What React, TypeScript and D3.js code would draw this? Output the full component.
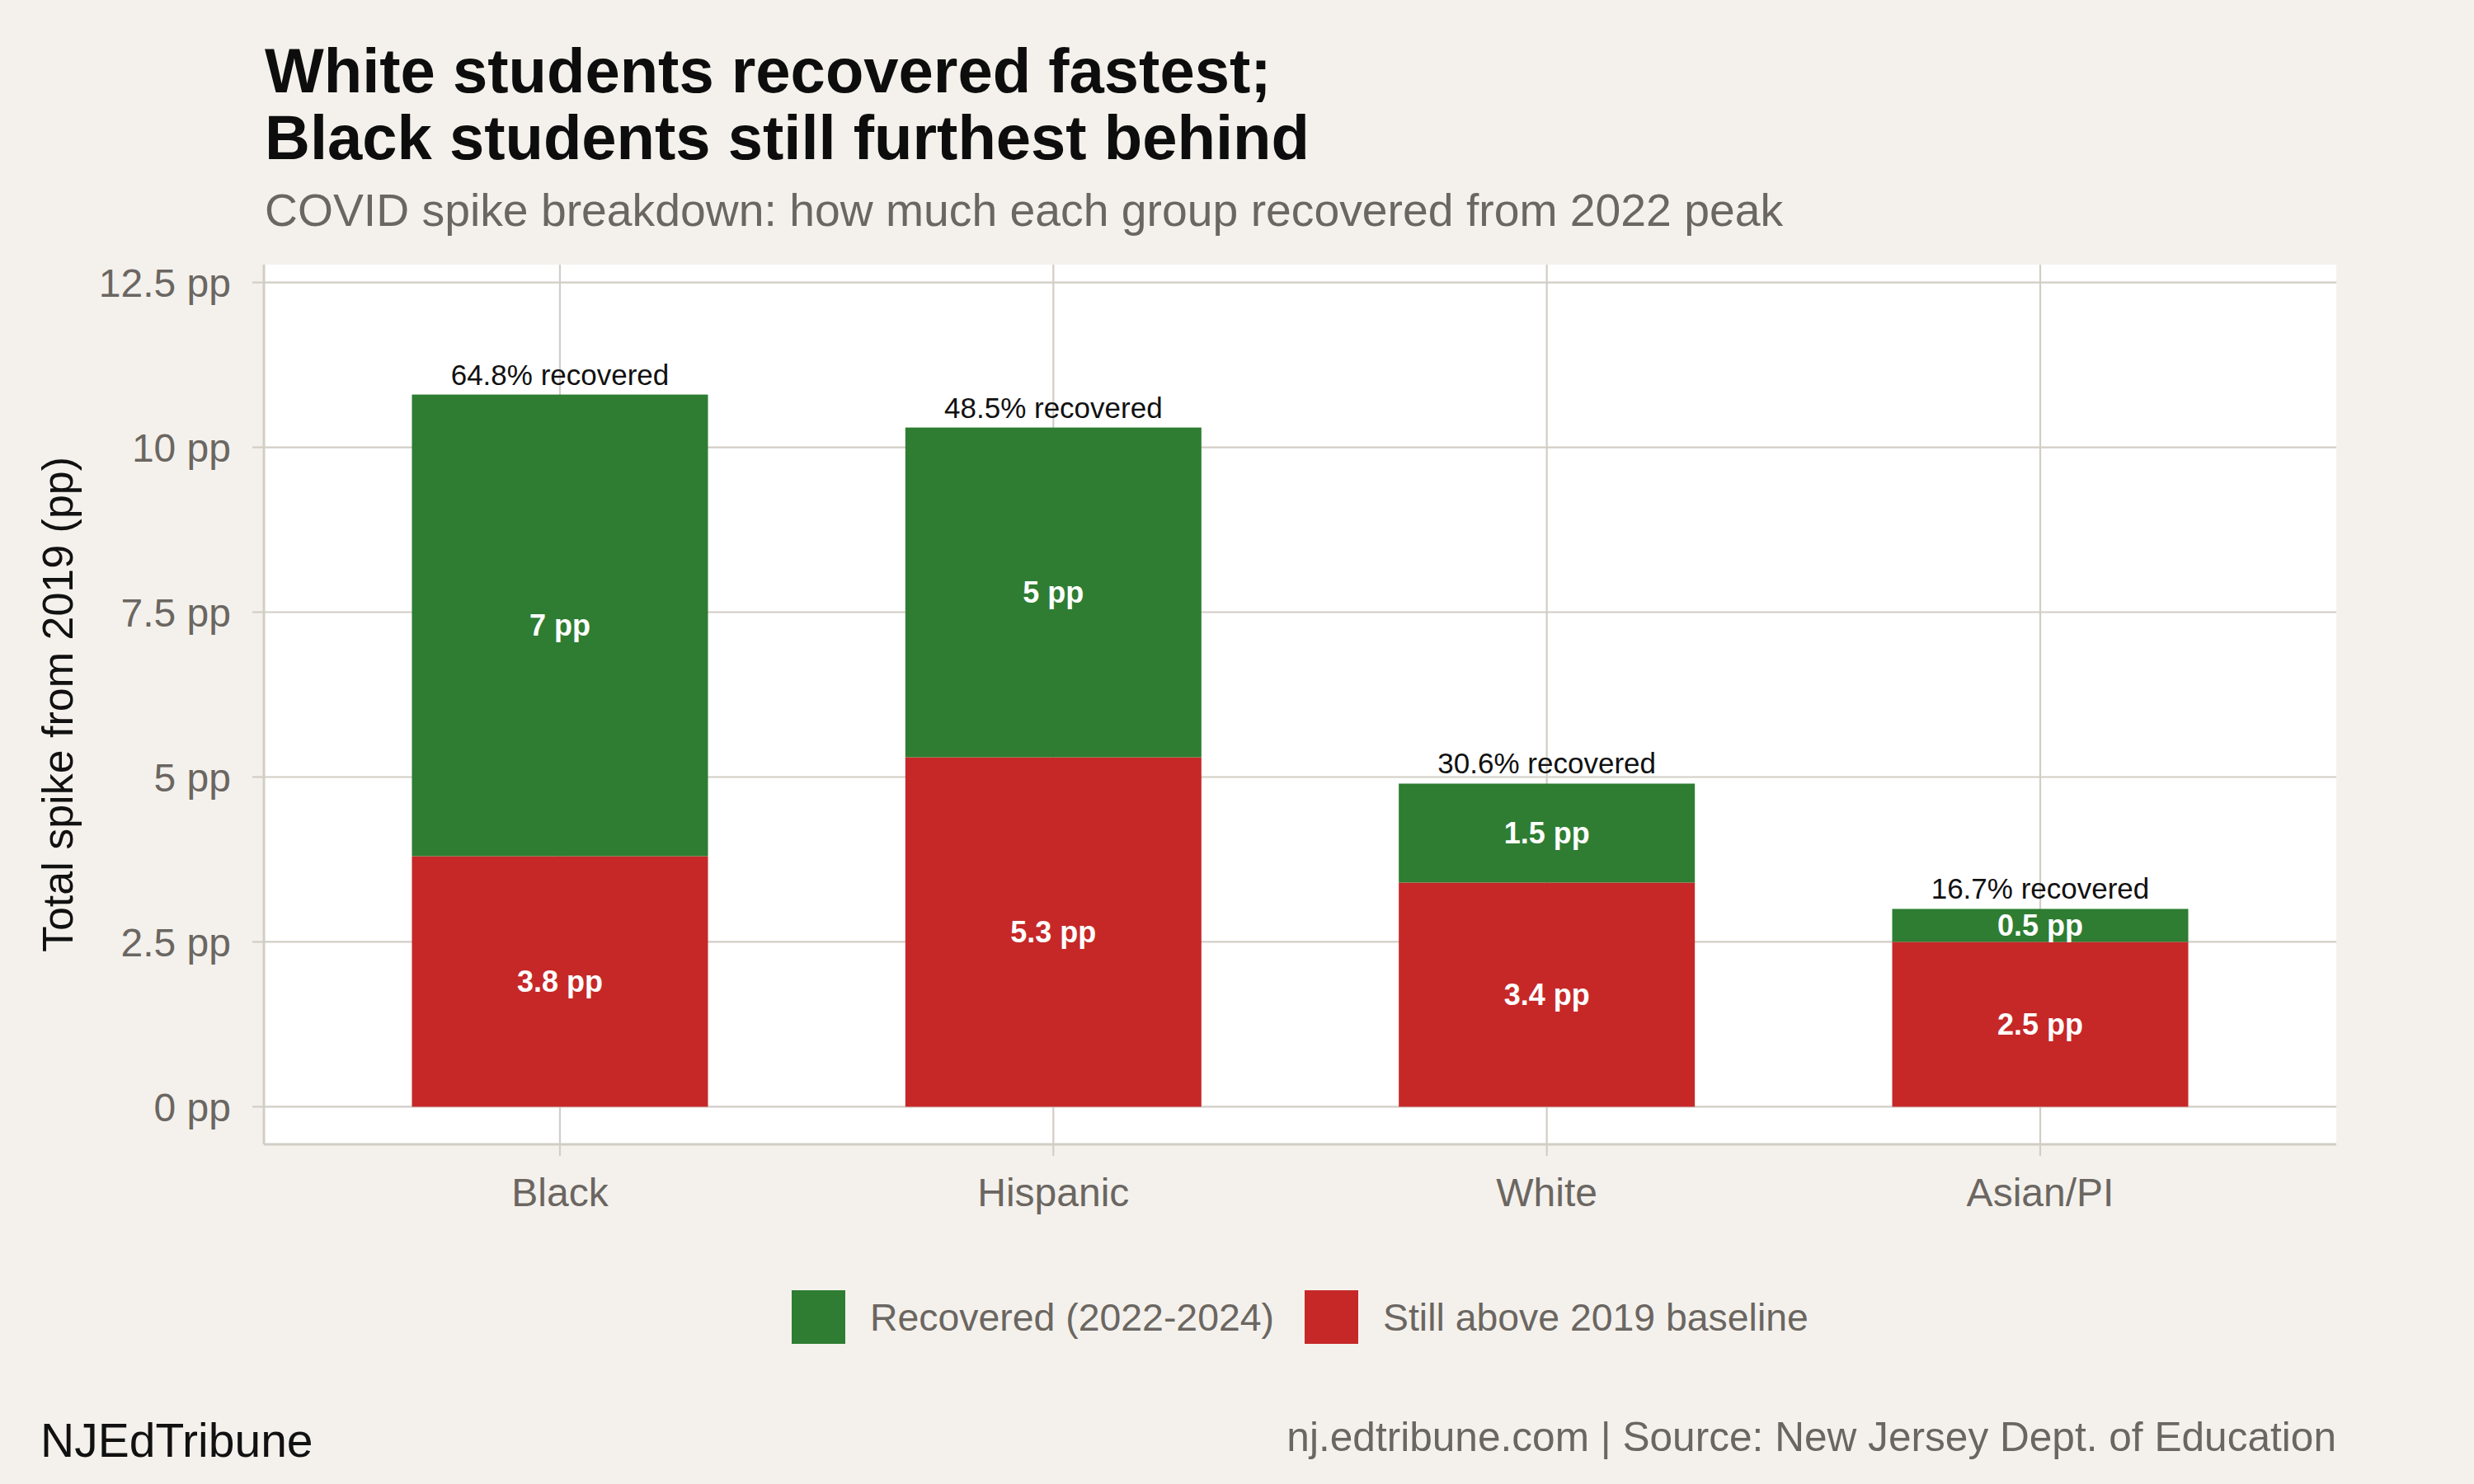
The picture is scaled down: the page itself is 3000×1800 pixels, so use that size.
import { useEffect, useRef } from 'react'
import * as d3 from 'd3'

const groups = ['Black', 'Hispanic', 'White', 'Asian/PI']
const stillAbove = [3.8, 5.3, 3.4, 2.5]
const recovered = [7.0, 5.0, 1.5, 0.5]
const recoveredLabels = ['7 pp', '5 pp', '1.5 pp', '0.5 pp']
const stillLabels = ['3.8 pp', '5.3 pp', '3.4 pp', '2.5 pp']
const pctRecovered = ['64.8%', '48.5%', '30.6%', '16.7%']
const yTicks = [0, 2.5, 5, 7.5, 10, 12.5]
const yTickLabels = ['0 pp', '2.5 pp', '5 pp', '7.5 pp', '10 pp', '12.5 pp']
const seriesKeys = ['still', 'recovered']
const seriesNames = ['Recovered (2022-2024)', 'Still above 2019 baseline']

const WIDTH = 3000
const HEIGHT = 1800
const FONT = "'Liberation Sans', Arial, Helvetica, sans-serif"
const GREEN = '#2e7d32'
const RED = '#c62828'
const BG = '#f4f1ec'
const GRID = '#d2cdc5'
const GREY = '#6b6661'

export default function App() {
  const svgRef = useRef<SVGSVGElement>(null)

  useEffect(() => {
    if (!svgRef.current) return
    const svg = d3.select(svgRef.current)
    svg.selectAll('*').remove()

    const panel = { left: 320, right: 2833, top: 321, bottom: 1388 }

    svg.append('rect').attr('width', WIDTH).attr('height', HEIGHT).attr('fill', BG)

    // title block
    const title = svg.append('text')
      .style('font-family', FONT)
      .style('font-weight', 'bold')
      .style('font-size', '76px')
      .style('fill', '#0d0d0d')
    title.append('tspan').attr('x', 321).attr('y', 112).text('White students recovered fastest;')
    title.append('tspan').attr('x', 321).attr('y', 193).text('Black students still furthest behind')

    svg.append('text')
      .attr('x', 321)
      .attr('y', 274)
      .style('font-family', FONT)
      .style('font-size', '55.3px')
      .style('fill', GREY)
      .text('COVID spike breakdown: how much each group recovered from 2022 peak')

    // panel
    svg.append('rect')
      .attr('x', panel.left)
      .attr('y', panel.top)
      .attr('width', panel.right - panel.left)
      .attr('height', panel.bottom - panel.top)
      .attr('fill', '#ffffff')

    const x = d3.scalePoint<string>()
      .domain(groups)
      .range([panel.left, panel.right])
      .padding(0.6)

    const y = d3.scaleLinear()
      .domain([-0.57, 12.77])
      .range([panel.bottom, panel.top])

    const barWidth = x.step() * 0.6

    // grid
    svg.append('g')
      .selectAll('line')
      .data(yTicks)
      .join('line')
      .attr('x1', panel.left)
      .attr('x2', panel.right)
      .attr('y1', d => y(d))
      .attr('y2', d => y(d))
      .attr('stroke', GRID)
      .attr('stroke-width', 2.2)

    svg.append('g')
      .selectAll('line')
      .data(groups)
      .join('line')
      .attr('x1', d => x(d)!)
      .attr('x2', d => x(d)!)
      .attr('y1', panel.top)
      .attr('y2', panel.bottom)
      .attr('stroke', GRID)
      .attr('stroke-width', 2.2)

    // stacked bars
    const rows = groups.map((g, i) => ({ group: g, still: stillAbove[i], recovered: recovered[i] }))
    const stacked = d3.stack<any>().keys(seriesKeys)(rows)
    const colors: Record<string, string> = { still: RED, recovered: GREEN }

    stacked.forEach(layer => {
      svg.append('g')
        .selectAll('rect')
        .data(layer)
        .join('rect')
        .attr('x', d => x(d.data.group)! - barWidth / 2)
        .attr('width', barWidth)
        .attr('y', d => y(d[1]))
        .attr('height', d => y(d[0]) - y(d[1]))
        .attr('fill', colors[layer.key])

      const labels = layer.key === 'still' ? stillLabels : recoveredLabels
      svg.append('g')
        .selectAll('text')
        .data(layer)
        .join('text')
        .attr('x', d => x(d.data.group)!)
        .attr('y', d => y((d[0] + d[1]) / 2))
        .attr('dy', '0.35em')
        .attr('text-anchor', 'middle')
        .style('font-family', FONT)
        .style('font-weight', 'bold')
        .style('font-size', '36px')
        .style('fill', '#ffffff')
        .text((d, i) => labels[i])
    })

    // recovered % labels on top
    const top = stacked[stacked.length - 1]
    svg.append('g')
      .selectAll('text')
      .data(top)
      .join('text')
      .attr('x', d => x(d.data.group)!)
      .attr('y', d => y(d[1]) - 12)
      .attr('text-anchor', 'middle')
      .style('font-family', FONT)
      .style('font-size', '35px')
      .style('fill', '#111111')
      .text((d, i) => `${pctRecovered[i]} recovered`)

    // axis lines + ticks
    svg.append('line')
      .attr('x1', panel.left).attr('x2', panel.left)
      .attr('y1', panel.top).attr('y2', panel.bottom)
      .attr('stroke', GRID).attr('stroke-width', 3)
    svg.append('line')
      .attr('x1', panel.left).attr('x2', panel.right)
      .attr('y1', panel.bottom).attr('y2', panel.bottom)
      .attr('stroke', GRID).attr('stroke-width', 3)

    svg.append('g')
      .selectAll('line')
      .data(yTicks)
      .join('line')
      .attr('x1', panel.left - 14)
      .attr('x2', panel.left)
      .attr('y1', d => y(d))
      .attr('y2', d => y(d))
      .attr('stroke', GRID)
      .attr('stroke-width', 2.2)

    svg.append('g')
      .selectAll('line')
      .data(groups)
      .join('line')
      .attr('x1', d => x(d)!)
      .attr('x2', d => x(d)!)
      .attr('y1', panel.bottom)
      .attr('y2', panel.bottom + 14)
      .attr('stroke', GRID)
      .attr('stroke-width', 2.2)

    svg.append('g')
      .selectAll('text')
      .data(yTicks)
      .join('text')
      .attr('x', 280)
      .attr('y', d => y(d))
      .attr('dy', '0.37em')
      .attr('text-anchor', 'end')
      .style('font-family', FONT)
      .style('font-size', '48px')
      .style('fill', GREY)
      .text((d, i) => yTickLabels[i])

    svg.append('g')
      .selectAll('text')
      .data(groups)
      .join('text')
      .attr('x', d => x(d)!)
      .attr('y', 1463)
      .attr('text-anchor', 'middle')
      .style('font-family', FONT)
      .style('font-size', '48px')
      .style('fill', GREY)
      .text(d => d)

    svg.append('text')
      .attr('transform', `translate(88, ${(panel.top + panel.bottom) / 2}) rotate(-90)`)
      .attr('text-anchor', 'middle')
      .style('font-family', FONT)
      .style('font-size', '52px')
      .style('fill', '#111111')
      .text('Total spike from 2019 (pp)')

    // legend
    const legendItems = [
      { name: seriesNames[0], color: GREEN, x: 960 },
      { name: seriesNames[1], color: RED, x: 1582 }
    ]
    const legend = svg.append('g')
    legendItems.forEach(item => {
      legend.append('rect')
        .attr('x', item.x)
        .attr('y', 1565)
        .attr('width', 65)
        .attr('height', 65)
        .attr('fill', item.color)
      legend.append('text')
        .attr('x', item.x + 95)
        .attr('y', 1614)
        .style('font-family', FONT)
        .style('font-size', '46.4px')
        .style('fill', GREY)
        .text(item.name)
    })

    // caption
    svg.append('text')
      .attr('x', 49)
      .attr('y', 1767)
      .style('font-family', FONT)
      .style('font-size', '57px')
      .style('fill', '#111111')
      .text('NJEdTribune')

    svg.append('text')
      .attr('x', panel.right)
      .attr('y', 1760)
      .attr('text-anchor', 'end')
      .style('font-family', FONT)
      .style('font-size', '49.6px')
      .style('fill', GREY)
      .text('nj.edtribune.com | Source: New Jersey Dept. of Education')
  }, [])

  return (
    <svg
      ref={svgRef}
      width={WIDTH}
      height={HEIGHT}
      style={{ position: 'absolute', left: 0, top: 0, display: 'block' }}
    />
  )
}
